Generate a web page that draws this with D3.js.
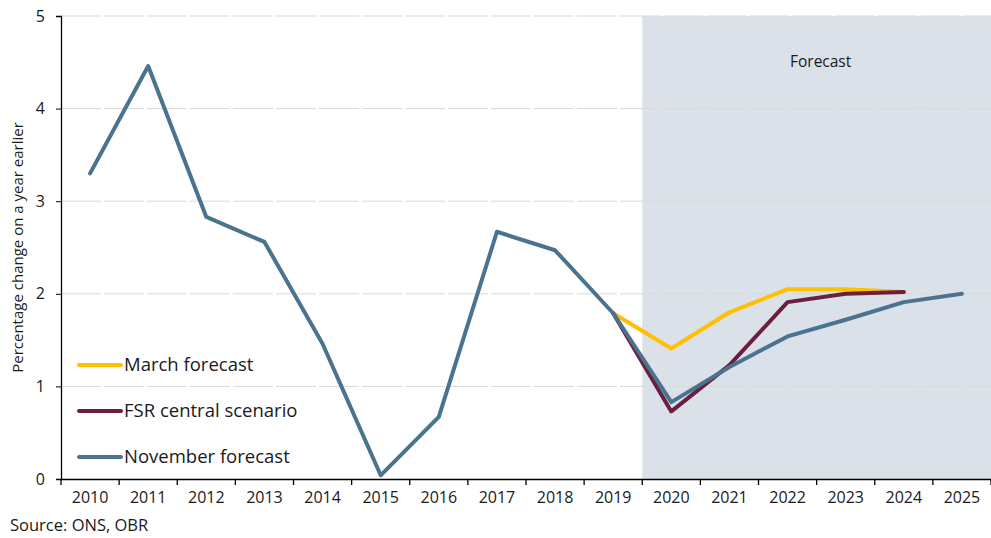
<!DOCTYPE html>
<html><head><meta charset="utf-8">
<script src="https://cdn.jsdelivr.net/npm/d3@7"></script>
<style>body{margin:0;background:#fff}svg{display:block}text{font-family:"Open Sans",sans-serif;fill:#1a1a1a}</style>
</head><body><svg id="c" width="991" height="538"></svg>
<script>
const years = ["2010","2011","2012","2013","2014","2015","2016","2017","2018","2019","2020","2021","2022","2023","2024","2025"];
const novemberYears = years;
const novemberValues = [3.30,4.46,2.83,2.56,1.46,0.04,0.67,2.67,2.47,1.79,0.83,1.21,1.54,1.72,1.91,2.00];
const marchYears = ["2019","2020","2021","2022","2023","2024"];
const marchValues = [1.79,1.41,1.80,2.05,2.05,2.02];
const fsrYears = ["2019","2020","2021","2022","2023","2024"];
const fsrValues = [1.79,0.73,1.23,1.91,2.00,2.02];
const yTicks = [0,1,2,3,4,5];
const forecastStart = "2020";
const seriesNames = ["March forecast","FSR central scenario","November forecast"];
const seriesColors = ["#FFC000","#6B1E3F","#4A7390"];

const svg = d3.select("#c");
const L=61,R=991,T=16,B=479;
const x = d3.scaleBand().domain(years).range([L,R]);
const y = d3.scaleLinear().domain([0,5]).range([B,T]);

// forecast shading
svg.append("rect").attr("x",x(forecastStart)).attr("y",T).attr("width",R-x(forecastStart)).attr("height",B-T).attr("fill","#DAE1E8");
svg.append("text").attr("x",(x(forecastStart)+R)/2+4).attr("y",67).attr("text-anchor","middle").attr("font-size",15.5).text("Forecast");

// gridlines
svg.append("g").selectAll("line").data(yTicks.filter(d=>d>0)).join("line")
  .attr("x1",L).attr("x2",R).attr("y1",d=>y(d)).attr("y2",d=>y(d))
  .attr("stroke","#d9d9d9").attr("stroke-width",1).attr("stroke-dasharray","40,3");

// y axis
const ya = svg.append("g").attr("transform",`translate(${L},0)`).call(d3.axisLeft(y).tickValues(yTicks).tickSize(5).tickPadding(11).tickFormat(d3.format("d")));
ya.select(".domain").attr("stroke","#000").attr("stroke-width",1.3);
ya.selectAll(".tick line").attr("stroke","#000");
ya.selectAll("text").attr("font-size",16).attr("font-family","Open Sans,sans-serif").attr("fill","#1a1a1a");

// x axis
const xa = svg.append("g").attr("transform",`translate(0,${B})`).call(d3.axisBottom(x).tickSize(0).tickPadding(13));
xa.select(".domain").attr("stroke","#000").attr("stroke-width",1.3);
xa.selectAll(".tick line").remove();
xa.selectAll("text").attr("font-size",16).attr("font-family","Open Sans,sans-serif").attr("fill","#1a1a1a");
svg.append("g").selectAll("line").data(years.map(d=>x(d)).concat([R])).join("line")
  .attr("x1",d=>d).attr("x2",d=>d).attr("y1",B).attr("y2",B+6).attr("stroke","#000").attr("stroke-width",1.3);

// y label
svg.append("text").attr("transform",`translate(23,${(T+B)/2}) rotate(-90)`).attr("text-anchor","middle").attr("font-size",15).text("Percentage change on a year earlier");

// lines
const line = d3.line().x(d=>x(d[0])+x.bandwidth()/2).y(d=>y(d[1]));
const series = [
  {yrs:marchYears, vals:marchValues, c:seriesColors[0]},
  {yrs:fsrYears, vals:fsrValues, c:seriesColors[1]},
  {yrs:novemberYears, vals:novemberValues, c:seriesColors[2]}
];
series.forEach(s=>{
  svg.append("path").datum(s.yrs.map((d,i)=>[d,s.vals[i]])).attr("d",line)
    .attr("fill","none").attr("stroke",s.c).attr("stroke-width",4).attr("stroke-linejoin","round").attr("stroke-linecap","round");
});

// legend
const legY=[365,411,457];
seriesNames.forEach((n,i)=>{
  svg.append("line").attr("x1",79).attr("x2",121).attr("y1",legY[i]).attr("y2",legY[i]).attr("stroke",seriesColors[i]).attr("stroke-width",4).attr("stroke-linecap","round");
  svg.append("text").attr("x",124).attr("y",legY[i]+6).attr("font-size",18.5).text(n);
});

svg.append("text").attr("x",10).attr("y",531).attr("font-size",16.5).text("Source: ONS, OBR");
</script></body></html>
